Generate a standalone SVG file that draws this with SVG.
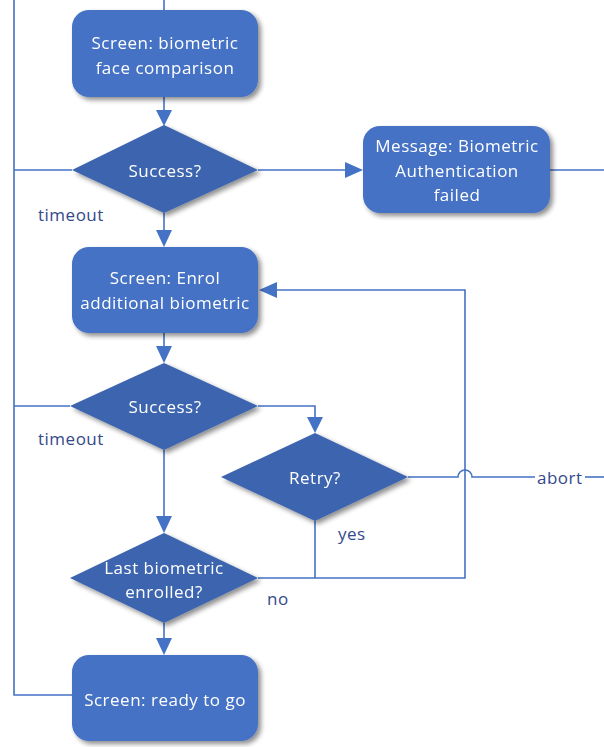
<svg xmlns="http://www.w3.org/2000/svg" width="604" height="747" viewBox="0 0 604 747">
  <style>
    .box { fill: #4472C4; }
    .dia { fill: #3D65AF; }
    .node { filter: url(#shadow); }
    .lbl { font-family: "Open Sans", "Noto Sans", sans-serif; font-size: 17px; letter-spacing: 0.5px; fill: #FFFFFF; text-anchor: middle; dominant-baseline: central; }
    .edge { fill: none; stroke: #4472C4; stroke-width: 1.6; }
    .elbl { font-family: "Open Sans", "Noto Sans", sans-serif; font-size: 17px; letter-spacing: 0.5px; fill: #34498A; dominant-baseline: central; }
  </style>
  <defs>
    <filter id="shadow" x="-20%" y="-20%" width="150%" height="150%">
      <feGaussianBlur in="SourceAlpha" stdDeviation="2.5"/>
      <feOffset dx="3" dy="3" result="b"/>
      <feComponentTransfer><feFuncA type="linear" slope="0.45"/></feComponentTransfer>
      <feMerge><feMergeNode/><feMergeNode in="SourceGraphic"/></feMerge>
    </filter>
  </defs>
  <rect width="604" height="747" fill="#FFFFFF"/>

  <!-- connectors -->
  <g id="connectors">
    <!-- left timeout spine -->
    <path class="edge" d="M14,0 V695 H72"/>
    <path class="edge" d="M72,170 H14"/>
    <path class="edge" d="M70,406 H14"/>
    <!-- entry from above -->
    <path class="edge" d="M164,0 V10"/>
    <!-- main flow -->
    <path class="edge" d="M164,97 V110"/>
    <polygon points="156,110 172,110 164,126" fill="#4472C4"/>
    <path class="edge" d="M164,213 V231"/>
    <polygon points="156,230 172,230 164,247" fill="#4472C4"/>
    <path class="edge" d="M164,333 V347"/>
    <polygon points="156,346 172,346 164,363" fill="#4472C4"/>
    <path class="edge" d="M164,450 V517"/>
    <polygon points="156,516 172,516 164,533" fill="#4472C4"/>
    <path class="edge" d="M164,623 V639"/>
    <polygon points="156,638 172,638 164,655" fill="#4472C4"/>
    <!-- failure branch -->
    <path class="edge" d="M258,170 H346"/>
    <polygon points="345,162 345,178 363,170" fill="#4472C4"/>
    <path class="edge" d="M550,170 H604"/>
    <!-- retry branch -->
    <path class="edge" d="M258,406 H315 V418"/>
    <polygon points="307,417 323,417 315,433" fill="#4472C4"/>
    <path class="edge" d="M408,477 H458 A7,7 0 0 1 472,477 H535"/>
    <path class="edge" d="M585,477 H604"/>
    <path class="edge" d="M315,521 V578"/>
    <!-- loop back to enrol -->
    <path class="edge" d="M258,578 H465 V290 H276"/>
    <polygon points="277,282 277,298 259,290" fill="#4472C4"/>
  </g>

  <!-- connector labels -->
  <g id="edge-labels">
    <text class="elbl" x="38" y="214">timeout</text>
    <text class="elbl" x="38" y="438">timeout</text>
    <text class="elbl" x="537" y="477">abort</text>
    <text class="elbl" x="338" y="533">yes</text>
    <text class="elbl" x="267" y="598">no</text>
  </g>

  <g id="n-face" class="node">
    <rect class="box" x="72" y="10" width="186" height="87" rx="17"/>
    <text class="lbl" x="165" y="42">Screen: biometric</text>
    <text class="lbl" x="165" y="67">face comparison</text>
  </g>

  <g id="n-success1" class="node">
    <polygon class="dia" points="164,125 258,170 164,213 72,170"/>
    <text class="lbl" x="165" y="170">Success?</text>
  </g>

  <g id="n-failed" class="node">
    <rect class="box" x="363" y="126" width="187" height="87" rx="17"/>
    <text class="lbl" x="457" y="145">Message: Biometric</text>
    <text class="lbl" x="457" y="170">Authentication</text>
    <text class="lbl" x="457" y="194">failed</text>
  </g>

  <g id="n-enrol" class="node">
    <rect class="box" x="72" y="247" width="186" height="86" rx="17"/>
    <text class="lbl" x="165" y="277">Screen: Enrol</text>
    <text class="lbl" x="165" y="302">additional biometric</text>
  </g>

  <g id="n-success2" class="node">
    <polygon class="dia" points="164,363 258,406 164,450 70,406"/>
    <text class="lbl" x="165" y="406">Success?</text>
  </g>

  <g id="n-retry" class="node">
    <polygon class="dia" points="315,433 408,477 315,521 221,477"/>
    <text class="lbl" x="315" y="477">Retry?</text>
  </g>

  <g id="n-last" class="node">
    <polygon class="dia" points="164,533 258,578 164,623 70,578"/>
    <text class="lbl" x="164" y="567">Last biometric</text>
    <text class="lbl" x="164" y="591">enrolled?</text>
  </g>

  <g id="n-ready" class="node">
    <rect class="box" x="72" y="655" width="186" height="86" rx="17"/>
    <text class="lbl" x="165" y="699">Screen: ready to go</text>
  </g>
</svg>
